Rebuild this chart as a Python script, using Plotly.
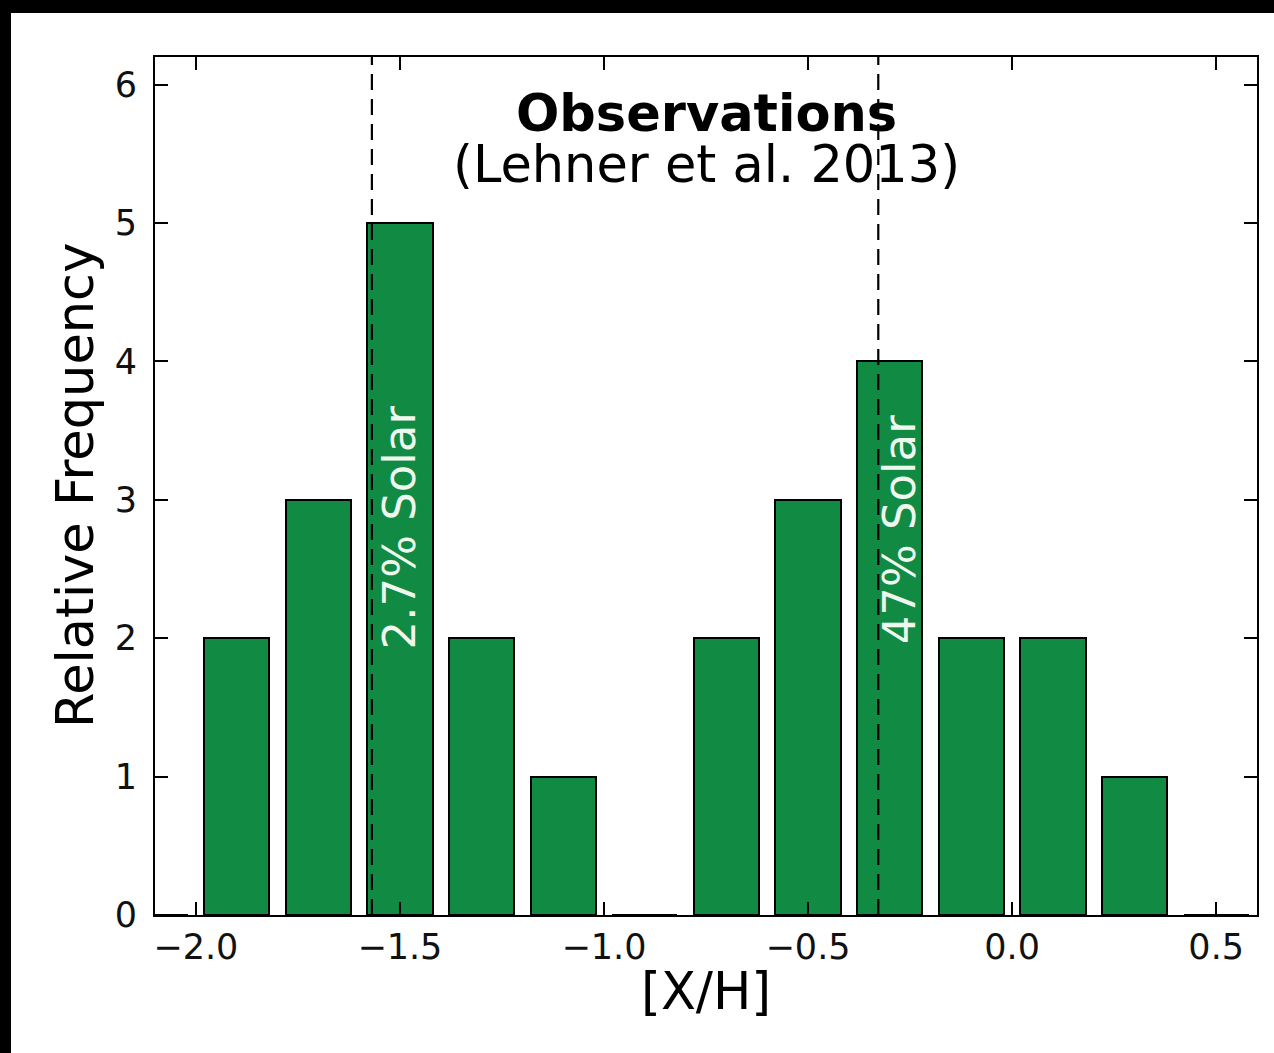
import plotly.graph_objects as go

# ---------------- data ----------------
bin_centers = [-2.1, -1.9, -1.7, -1.5, -1.3, -1.1, -0.9, -0.7, -0.5, -0.3, -0.1, 0.1, 0.3, 0.5]
frequencies = [0, 2, 3, 5, 2, 1, 0, 2, 3, 4, 2, 2, 1, 0]
bar_width = 0.16

solar_lines = [-1.5686, -0.3279]          # log10(0.027), log10(0.47)
solar_labels = ["2.7% Solar", "47% Solar"]
solar_label_x = [-1.50, -0.277]
solar_label_y = [2.80, 2.78]

x_tickvals = [-2.0, -1.5, -1.0, -0.5, 0.0, 0.5]
x_ticktext = ["\u22122.0", "\u22121.5", "\u22121.0", "\u22120.5", "0.0", "0.5"]
y_tickvals = [0, 1, 2, 3, 4, 5, 6]

x_range = [-2.1, 0.6]
y_range = [0, 6.2]

# ---------------- layout geometry ----------------
W, H = 1274, 1053
ML, MR, MT, MB = 155, 17, 57, 138
PW, PH = W - ML - MR, H - MT - MB

def px_x(p):
    return (p - ML) / PW

def px_y(p):
    return (H - MB - p) / PH

FONT = "DejaVu Sans"
BAR_COLOR = "#118a43"

fig = go.Figure()

fig.add_trace(go.Bar(
    x=bin_centers, y=frequencies, width=bar_width,
    marker=dict(color=BAR_COLOR, line=dict(color="black", width=2)),
    showlegend=False, hoverinfo="skip",
))

for xv in solar_lines:
    fig.add_trace(go.Scatter(
        x=[xv, xv], y=y_range, mode="lines",
        line=dict(color="black", width=2.2, dash="16px,9px"),
        showlegend=False, hoverinfo="skip", cliponaxis=True,
    ))

annotations = []
for lab, lx, ly in zip(solar_labels, solar_label_x, solar_label_y):
    annotations.append(dict(
        x=lx, y=ly, xref="x", yref="y", text=lab, showarrow=False,
        textangle=-90, xanchor="center", yanchor="middle",
        font=dict(family=FONT, size=45, color="#eef8ee"),
    ))

annotations += [
    dict(x=0.5, y=px_y(113), xref="paper", yref="paper", text="<b>Observations</b>",
         showarrow=False, xanchor="center", yanchor="middle",
         font=dict(family=FONT, size=51, color="black")),
    dict(x=0.5, y=px_y(164), xref="paper", yref="paper", text="(Lehner et al. 2013)",
         showarrow=False, xanchor="center", yanchor="middle",
         font=dict(family=FONT, size=51, color="black")),
    dict(x=0.5, y=px_y(992), xref="paper", yref="paper", text="[X/H]",
         showarrow=False, xanchor="center", yanchor="middle",
         font=dict(family=FONT, size=51, color="black")),
    dict(x=px_x(75), y=0.5, xref="paper", yref="paper", text="Relative Frequency",
         showarrow=False, xanchor="center", yanchor="middle", textangle=-90,
         font=dict(family=FONT, size=51, color="black")),
]

shapes = [
    # black border strips (top and left)
    dict(type="rect", xref="paper", yref="paper",
         x0=px_x(-5), x1=px_x(W + 5), y0=px_y(13), y1=px_y(-5),
         fillcolor="black", line=dict(width=0)),
    dict(type="rect", xref="paper", yref="paper",
         x0=px_x(-5), x1=px_x(11), y0=px_y(H + 5), y1=px_y(-5),
         fillcolor="black", line=dict(width=0)),
]

axis_common = dict(
    showgrid=False, zeroline=False, showline=True, linecolor="black", linewidth=2,
    mirror="ticks", ticks="inside", ticklen=13, tickwidth=1.5, tickcolor="black",
    tickfont=dict(family=FONT, size=35, color="#111111"),
)

fig.update_layout(
    width=W, height=H,
    margin=dict(l=ML, r=MR, t=MT, b=MB, pad=0),
    paper_bgcolor="white", plot_bgcolor="white",
    bargap=0,
    xaxis=dict(range=x_range, tickmode="array", tickvals=x_tickvals, ticktext=x_ticktext,
               **axis_common),
    yaxis=dict(range=y_range, tickmode="array", tickvals=y_tickvals, ticklabelstandoff=9,
               **axis_common),
    annotations=annotations,
    shapes=shapes,
)

fig.write_html("out.html")
